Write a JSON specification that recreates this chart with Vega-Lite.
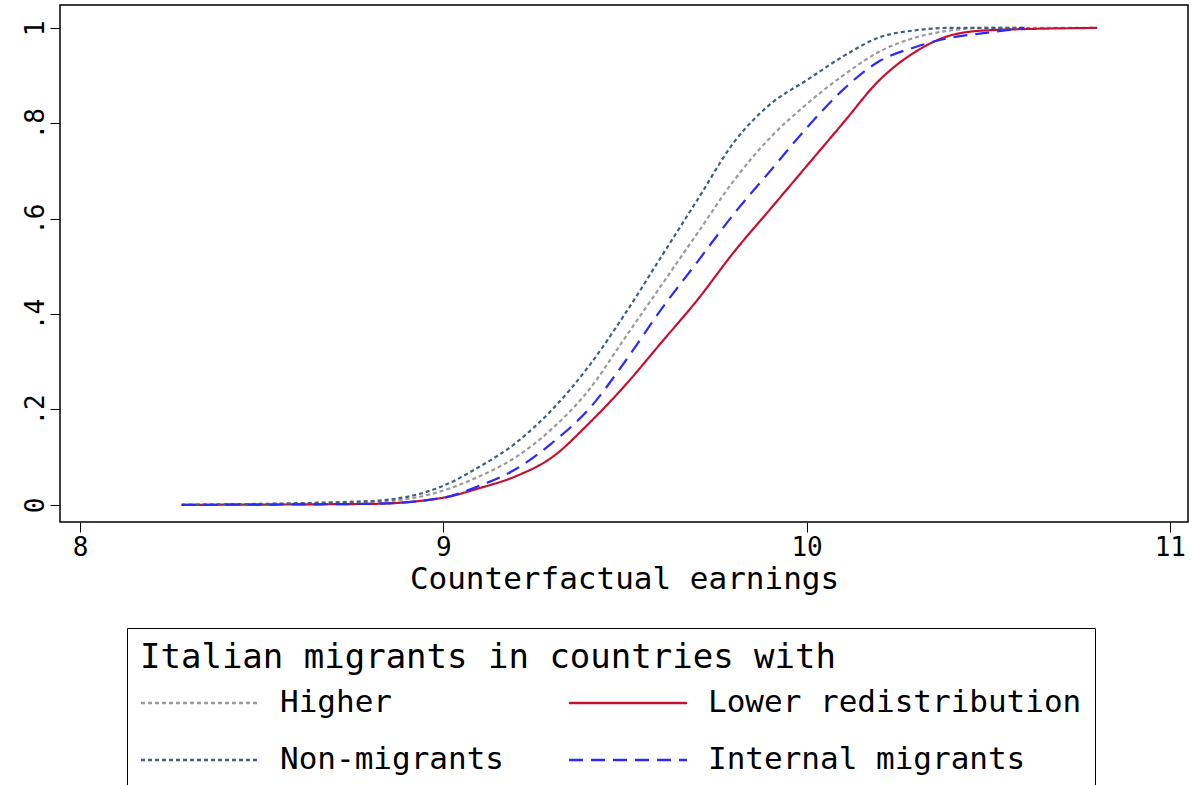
{
  "$schema": "https://vega.github.io/schema/vega-lite/v6.json",
  "width": 1128,
  "height": 517,
  "autosize": {"type": "none"},
  "padding": {"left": 60, "top": 5, "right": 7, "bottom": 263},
  "background": "white",
  "config": {
    "font": "DejaVu Sans Mono",
    "view": {"stroke": "black", "strokeWidth": 1.5},
    "axis": {"grid": false, "domain": false, "tickColor": "black", "labelColor": "black", "labelFont": "DejaVu Sans Mono", "titleFont": "DejaVu Sans Mono", "labelFontSize": 26, "titleFontSize": 31, "titleFontWeight": "normal", "tickSize": 10}
  },
  "data": {"values": [
    {"s": "Higher", "x": 8.28, "y": 0}, {"s": "Higher", "x": 8.8, "y": 0.005}, {"s": "Higher", "x": 9.0, "y": 0.03}, {"s": "Higher", "x": 9.1, "y": 0.06}, {"s": "Higher", "x": 9.2, "y": 0.1}, {"s": "Higher", "x": 9.3, "y": 0.16}, {"s": "Higher", "x": 9.4, "y": 0.24}, {"s": "Higher", "x": 9.5, "y": 0.35}, {"s": "Higher", "x": 9.6, "y": 0.46}, {"s": "Higher", "x": 9.7, "y": 0.57}, {"s": "Higher", "x": 9.8, "y": 0.68}, {"s": "Higher", "x": 9.9, "y": 0.77}, {"s": "Higher", "x": 10.0, "y": 0.84}, {"s": "Higher", "x": 10.1, "y": 0.9}, {"s": "Higher", "x": 10.2, "y": 0.95}, {"s": "Higher", "x": 10.3, "y": 0.98}, {"s": "Higher", "x": 10.4, "y": 0.995}, {"s": "Higher", "x": 10.5, "y": 1}, {"s": "Higher", "x": 10.8, "y": 1},
    {"s": "Lower redistribution", "x": 8.28, "y": 0}, {"s": "Lower redistribution", "x": 8.8, "y": 0.002}, {"s": "Lower redistribution", "x": 9.0, "y": 0.015}, {"s": "Lower redistribution", "x": 9.1, "y": 0.035}, {"s": "Lower redistribution", "x": 9.2, "y": 0.06}, {"s": "Lower redistribution", "x": 9.3, "y": 0.1}, {"s": "Lower redistribution", "x": 9.4, "y": 0.17}, {"s": "Lower redistribution", "x": 9.5, "y": 0.25}, {"s": "Lower redistribution", "x": 9.6, "y": 0.34}, {"s": "Lower redistribution", "x": 9.7, "y": 0.43}, {"s": "Lower redistribution", "x": 9.8, "y": 0.53}, {"s": "Lower redistribution", "x": 9.9, "y": 0.62}, {"s": "Lower redistribution", "x": 10.0, "y": 0.71}, {"s": "Lower redistribution", "x": 10.1, "y": 0.8}, {"s": "Lower redistribution", "x": 10.2, "y": 0.89}, {"s": "Lower redistribution", "x": 10.3, "y": 0.95}, {"s": "Lower redistribution", "x": 10.4, "y": 0.985}, {"s": "Lower redistribution", "x": 10.5, "y": 0.995}, {"s": "Lower redistribution", "x": 10.8, "y": 1},
    {"s": "Non-migrants", "x": 8.28, "y": 0}, {"s": "Non-migrants", "x": 8.8, "y": 0.008}, {"s": "Non-migrants", "x": 9.0, "y": 0.04}, {"s": "Non-migrants", "x": 9.1, "y": 0.08}, {"s": "Non-migrants", "x": 9.2, "y": 0.13}, {"s": "Non-migrants", "x": 9.3, "y": 0.2}, {"s": "Non-migrants", "x": 9.4, "y": 0.29}, {"s": "Non-migrants", "x": 9.5, "y": 0.4}, {"s": "Non-migrants", "x": 9.6, "y": 0.52}, {"s": "Non-migrants", "x": 9.7, "y": 0.64}, {"s": "Non-migrants", "x": 9.8, "y": 0.76}, {"s": "Non-migrants", "x": 9.9, "y": 0.84}, {"s": "Non-migrants", "x": 10.0, "y": 0.89}, {"s": "Non-migrants", "x": 10.1, "y": 0.94}, {"s": "Non-migrants", "x": 10.2, "y": 0.98}, {"s": "Non-migrants", "x": 10.3, "y": 0.995}, {"s": "Non-migrants", "x": 10.4, "y": 1}, {"s": "Non-migrants", "x": 10.6, "y": 1},
    {"s": "Internal migrants", "x": 8.28, "y": 0}, {"s": "Internal migrants", "x": 8.8, "y": 0.002}, {"s": "Internal migrants", "x": 9.0, "y": 0.015}, {"s": "Internal migrants", "x": 9.1, "y": 0.04}, {"s": "Internal migrants", "x": 9.2, "y": 0.075}, {"s": "Internal migrants", "x": 9.3, "y": 0.13}, {"s": "Internal migrants", "x": 9.4, "y": 0.2}, {"s": "Internal migrants", "x": 9.5, "y": 0.3}, {"s": "Internal migrants", "x": 9.6, "y": 0.41}, {"s": "Internal migrants", "x": 9.7, "y": 0.51}, {"s": "Internal migrants", "x": 9.8, "y": 0.61}, {"s": "Internal migrants", "x": 9.9, "y": 0.7}, {"s": "Internal migrants", "x": 10.0, "y": 0.79}, {"s": "Internal migrants", "x": 10.1, "y": 0.87}, {"s": "Internal migrants", "x": 10.2, "y": 0.93}, {"s": "Internal migrants", "x": 10.3, "y": 0.96}, {"s": "Internal migrants", "x": 10.4, "y": 0.98}, {"s": "Internal migrants", "x": 10.5, "y": 0.99}, {"s": "Internal migrants", "x": 10.6, "y": 1}
  ]},
  "mark": {"type": "line", "interpolate": "monotone", "strokeWidth": 2.2},
  "encoding": {
    "x": {"field": "x", "type": "quantitative", "title": "Counterfactual earnings", "scale": {"domain": [7.945, 11.05], "nice": false, "zero": false}, "axis": {"values": [8, 9, 10, 11], "titlePadding": 4}},
    "y": {"field": "y", "type": "quantitative", "title": null, "scale": {"domain": [-0.036, 1.048], "nice": false}, "axis": {"values": [0, 0.2, 0.4, 0.6, 0.8, 1], "labelAngle": -90, "labelAlign": "center", "labelBaseline": "bottom", "labelExpr": "datum.value == 0 ? '0' : datum.value == 1 ? '1' : replace(format(datum.value, '.1f'), '0.', '.')"}},
    "color": {"field": "s", "type": "nominal", "sort": ["Higher", "Lower redistribution", "Non-migrants", "Internal migrants"],
      "scale": {"domain": ["Higher", "Lower redistribution", "Non-migrants", "Internal migrants"], "range": ["#9a9a9a", "#c8102e", "#3f6080", "#2a2aff"]},
      "legend": {"orient": "none", "legendX": 67, "legendY": 623, "columns": 2, "direction": "horizontal", "title": "Italian migrants in countries with", "titleFontSize": 34, "titleFontWeight": "normal", "titleColor": "black", "titleLimit": 1100, "labelFontSize": 31, "labelColor": "black", "labelLimit": 600, "symbolType": "M-4,0L4,0", "symbolSize": 870, "symbolStrokeWidth": 2.5, "symbolOffset": 44, "strokeColor": "black", "padding": 13, "rowPadding": 26, "columnPadding": 60, "labelOffset": 64, "titlePadding": 12}},
    "strokeDash": {"field": "s", "type": "nominal", "sort": ["Higher", "Lower redistribution", "Non-migrants", "Internal migrants"],
      "scale": {"domain": ["Higher", "Lower redistribution", "Non-migrants", "Internal migrants"], "range": [[4, 3], [1, 0], [4, 3], [14, 8]]}, "legend": null}
  }
}
